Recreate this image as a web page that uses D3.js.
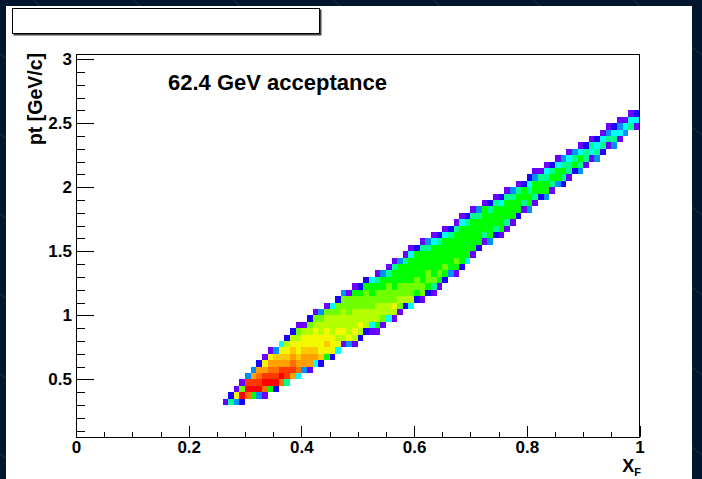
<!DOCTYPE html>
<html>
<head>
<meta charset="utf-8">
<script src="https://cdn.jsdelivr.net/npm/d3@7"></script>
<style>
  body { margin: 0; background: #01152d; }
  svg { display: block; }
</style>
</head>
<body>
<div id="chart-area"></div>
<script>
// histogram binning: 100 bins in xF (0..1), pt bins of 0.05 starting at 0.05
const xBinWidth = 0.01;
const yBinWidth = 0.05;
const yBinStart = 0.05;
const firstCol = 26;

// lowest filled pt bin of each xF column (columns 26..99)
const rowStart = [5, 5, 5, 5, 6, 6, 6, 6, 7, 7, 8, 8, 9, 9, 10, 10, 11, 11, 12, 12,
  13, 14, 14, 14, 15, 16, 16, 16, 17, 18, 18, 19, 20, 20, 21, 21, 22, 22, 23, 24,
  25, 25, 26, 27, 28, 29, 30, 30, 31, 31, 32, 33, 34, 35, 35, 36, 37, 37, 38, 39,
  39, 40, 41, 41, 42, 43, 43, 44, 45, 45, 46, 47, 48, 48];

// colour level of each cell, bottom to top (1 = lowest, e = highest)
const cellLevels = ["1", "52", "391", "2e71", "ced3", "6edb3", "3edcb2", "1cedb91",
  "6edcb91", "2edcba3", "cedba94", "5ddba982", "bdcba982", "4cba99871", "3bba9981",
  "1bba99872", "4ba999871", "2a9998873", "69a998871", "299988874", "498988772",
  "189888773", "398887771", "1898887761", "289887762", "288877762", "148877664",
  "1688877651", "178877663", "488777651", "1897766651", "178776663", "287766651",
  "4877666641", "267766662", "1776666651", "267766653", "1576666641", "167666652",
  "267666641", "36666652", "167666651", "266666641", "46666652", "16666651",
  "2666653", "1566661", "3666652", "2566651", "1666642", "1566651", "166653",
  "266651", "15662", "366542", "156631", "26651", "366541", "15652", "36641",
  "25653", "15541", "2653", "35641", "1552", "1451", "3542", "2541", "1531",
  "3542", "1431", "341", "541", "142"];

const palette = ["#6a00ff", "#1a00ff", "#0090ff", "#00ffff", "#00ff90", "#00ff00",
  "#70ff00", "#b4ff00", "#f2f800", "#ffc800", "#ffa000", "#ff7000", "#ff3800", "#ff0000"];

const xMajor = [0, 0.2, 0.4, 0.6, 0.8, 1];
const xLabels = ["0", "0.2", "0.4", "0.6", "0.8", "1"];
const yMajor = [0.5, 1, 1.5, 2, 2.5, 3];
const yLabels = ["0.5", "1", "1.5", "2", "2.5", "3"];
const xMinor = [0.05, 0.1, 0.15, 0.25, 0.3, 0.35, 0.45, 0.5, 0.55, 0.65, 0.7, 0.75, 0.85, 0.9, 0.95];
const yMinor = [0.1, 0.2, 0.3, 0.4, 0.6, 0.7, 0.8, 0.9, 1.1, 1.2, 1.3, 1.4, 1.6, 1.7, 1.8, 1.9,
  2.1, 2.2, 2.3, 2.4, 2.6, 2.7, 2.8, 2.9];

const width = 702;
const height = 479;
const frame = { left: 76, right: 639.5, top: 54, bottom: 437 };
const font = "'Liberation Sans', Arial, Helvetica, sans-serif";

const svg = d3.select("#chart-area")
  .append("svg")
  .attr("width", width)
  .attr("height", height);

// dark canvas border with faint diagonal lines
svg.append("rect").attr("width", width).attr("height", height).attr("fill", "#01152d");
const diag = d3.range(-700, 800, 100);
svg.selectAll("line.diag")
  .data(diag)
  .enter()
  .append("line")
  .attr("class", "diag")
  .attr("x1", d => d + 33).attr("y1", 0)
  .attr("x2", d => d + 33 + 700).attr("y2", 560)
  .attr("stroke", "#2f4a68")
  .attr("stroke-width", 0.6);

svg.append("rect")
  .attr("x", 6).attr("y", 6)
  .attr("width", 686).attr("height", height)
  .attr("fill", "#ffffff");

// empty title box with shadow
svg.append("rect").attr("x", 13.5).attr("y", 9.5).attr("width", 308).attr("height", 26).attr("fill", "#444");
svg.append("rect").attr("x", 12.5).attr("y", 8.5).attr("width", 307).attr("height", 25)
  .attr("fill", "#fff").attr("stroke", "#000").attr("stroke-width", 1);

const x = d3.scaleLinear().domain([0, 1]).range([frame.left, frame.right]);
const y = d3.scaleLinear().domain([0.05, 3.04]).range([frame.bottom, frame.top]);

// flatten the cells
const cells = [];
cellLevels.forEach((s, c) => {
  const col = firstCol + c;
  s.split("").forEach((ch, k) => {
    cells.push({ col: col, row: rowStart[c] + k, level: parseInt(ch, 16) - 1 });
  });
});

svg.append("g")
  .attr("shape-rendering", "crispEdges")
  .selectAll("rect")
  .data(cells)
  .enter()
  .append("rect")
  .attr("x", d => x(d.col * xBinWidth))
  .attr("width", d => x((d.col + 1) * xBinWidth) - x(d.col * xBinWidth))
  .attr("y", d => y(yBinStart + (d.row + 1) * yBinWidth))
  .attr("height", d => y(yBinStart + d.row * yBinWidth) - y(yBinStart + (d.row + 1) * yBinWidth))
  .attr("fill", d => palette[d.level]);

// frame
svg.append("rect")
  .attr("x", frame.left).attr("y", frame.top)
  .attr("width", frame.right - frame.left).attr("height", frame.bottom - frame.top)
  .attr("fill", "none").attr("stroke", "#000").attr("stroke-width", 1)
  .attr("shape-rendering", "crispEdges");

// axes
function styleAxis(g) {
  g.select(".domain").remove();
  g.selectAll("line").attr("stroke", "#000").attr("shape-rendering", "crispEdges");
  g.selectAll("text")
    .attr("font-family", font)
    .attr("font-weight", "bold")
    .attr("font-size", 17)
    .attr("fill", "#000");
}

svg.append("g")
  .attr("transform", `translate(0,${frame.bottom})`)
  .call(d3.axisBottom(x).tickValues(xMajor).tickSize(-11).tickPadding(4)
    .tickFormat((d, i) => xLabels[i]))
  .call(styleAxis);

svg.append("g")
  .attr("transform", `translate(0,${frame.bottom})`)
  .call(d3.axisBottom(x).tickValues(xMinor).tickSize(-5.5).tickFormat(""))
  .call(styleAxis);

svg.append("g")
  .attr("transform", `translate(${frame.left},0)`)
  .call(d3.axisLeft(y).tickValues(yMajor).tickSize(-18).tickPadding(4)
    .tickFormat((d, i) => yLabels[i]))
  .call(styleAxis);

svg.append("g")
  .attr("transform", `translate(${frame.left},0)`)
  .call(d3.axisLeft(y).tickValues(yMinor).tickSize(-9).tickFormat(""))
  .call(styleAxis);

// axis titles
svg.append("text")
  .attr("transform", `translate(42,${frame.top - 1}) rotate(-90)`)
  .attr("text-anchor", "end")
  .attr("font-family", font).attr("font-weight", "bold").attr("font-size", 19.5)
  .text("pt [GeV/c]");

const xt = svg.append("text")
  .attr("x", 641).attr("y", 472)
  .attr("text-anchor", "end")
  .attr("font-family", font).attr("font-weight", "bold").attr("font-size", 18);
xt.append("tspan").text("X");
xt.append("tspan").attr("font-size", 11).attr("dy", 4).text("F");

// label
svg.append("text")
  .attr("x", 168).attr("y", 90)
  .attr("font-family", font).attr("font-weight", "bold").attr("font-size", 22)
  .text("62.4 GeV acceptance");
</script>
</body>
</html>
